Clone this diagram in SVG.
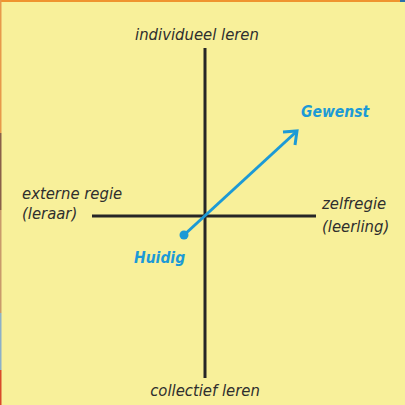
<svg xmlns="http://www.w3.org/2000/svg" width="405" height="405" viewBox="0 0 405 405">
<defs>
<style>
.lbl{font-family:"DejaVu Sans Condensed","DejaVu Sans",sans-serif;font-style:italic;font-size:16.5px;fill:#2e2e2e}
.blue{font-family:"DejaVu Sans Condensed","DejaVu Sans",sans-serif;font-style:italic;font-weight:bold;font-size:15.5px;fill:#1c9ad6}
.axis{stroke:#262626;stroke-width:3;fill:none}
</style>
</defs>
<rect width="405" height="405" fill="#f8f09a"/>
<rect x="0" y="0" width="405" height="2" fill="#ef9430"/>
<rect x="400" y="0" width="5" height="2" fill="#2a6fa8"/>
<rect x="0" y="0" width="1.5" height="133" fill="#e7994a"/>
<rect x="0" y="133" width="1.5" height="77" fill="#8a6048"/>
<rect x="0" y="210" width="1.5" height="103" fill="#c99a6a"/>
<rect x="0" y="313" width="1.5" height="57" fill="#8db0c8"/>
<rect x="0" y="370" width="1.5" height="35" fill="#d84a2a"/>
<g id="connectors">
<line class="axis" x1="205" y1="48" x2="205" y2="378"/>
<line class="axis" x1="92" y1="216" x2="316" y2="216"/>
<line x1="184" y1="235" x2="296" y2="132" stroke="#1c9ad6" stroke-width="3"/>
<polyline points="283,132 297,131 295,145" fill="none" stroke="#1c9ad6" stroke-width="3" stroke-linejoin="miter"/>
<circle cx="184" cy="235" r="4.5" fill="#1c9ad6"/>
</g>
<g id="top"><text class="lbl" x="197" y="40" text-anchor="middle">individueel leren</text></g>
<g id="bottom"><text class="lbl" x="205" y="396" text-anchor="middle">collectief leren</text></g>
<g id="left"><text class="lbl" x="22" y="199">externe regie</text><text class="lbl" x="22" y="219">(leraar)</text></g>
<g id="right"><text class="lbl" x="322" y="209">zelfregie</text><text class="lbl" x="322" y="232">(leerling)</text></g>
<g id="gewenst"><text class="blue" x="301" y="117">Gewenst</text></g>
<g id="huidig"><text class="blue" x="134" y="263">Huidig</text></g>
</svg>
